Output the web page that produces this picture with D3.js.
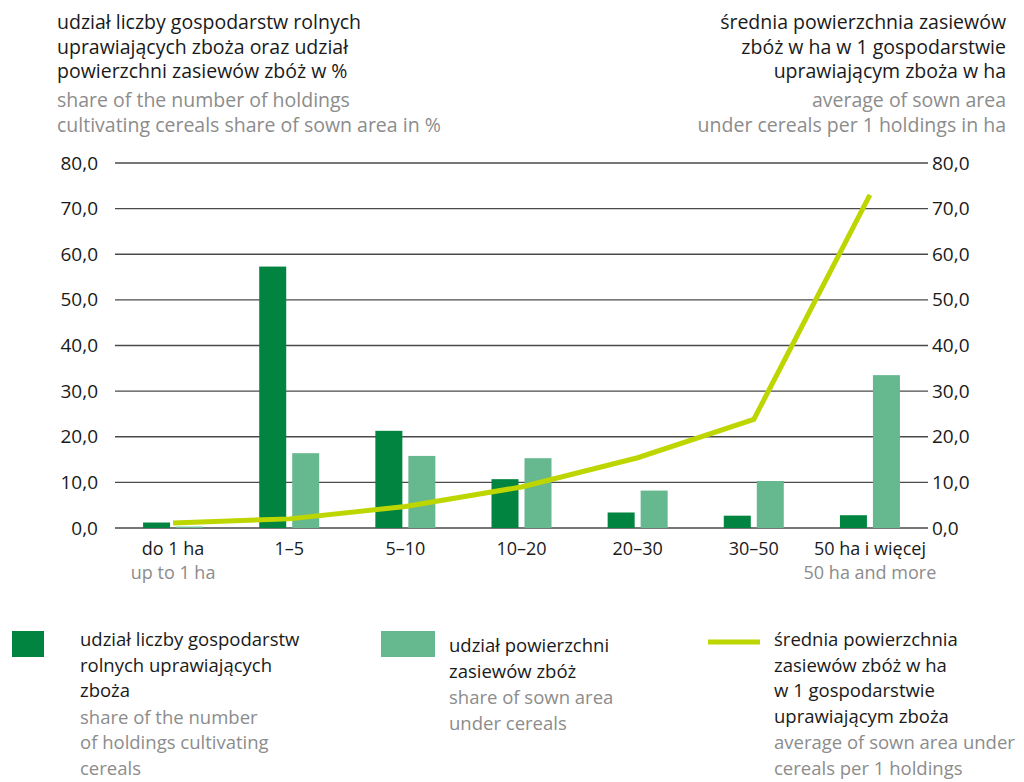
<!DOCTYPE html>
<html lang="pl">
<head>
<meta charset="UTF-8">
<title>Zboża</title>
<style>
  body { margin: 0; background: #fff; }
  svg text { font-family: "Open Sans", "Noto Sans", sans-serif; }
</style>
</head>
<body>
<script src="https://d3js.org/d3.v7.min.js"></script>
<script>
    var categories = ['do 1 ha', '1–5', '5–10', '10–20', '20–30', '30–50', '50 ha i więcej'];
    var categoriesEn = ['up to 1 ha', '', '', '', '', '', '50 ha and more'];
    var shareHoldings = [1.2, 57.3, 21.3, 10.7, 3.4, 2.7, 2.8];
    var shareArea = [0.3, 16.4, 15.8, 15.3, 8.2, 10.3, 33.5];
    var avgArea = [1.1, 2.0, 4.7, 9.0, 15.4, 23.8, 73.0];
    var yTicks = [0, 10, 20, 30, 40, 50, 60, 70, 80];

    var dark = '#00843f', light = '#66b88f', lime = '#bed600';

    var margin = {top: 163, left: 115, right: 96, bottom: 254},
        width = 1024 - margin.left - margin.right,
        height = 782 - margin.top - margin.bottom;

    var svg = d3.select('body').append('svg')
        .attr('width', 1024).attr('height', 782);

    var g = svg.append('g')
        .attr('transform', `translate(${margin.left},${margin.top})`);

    var x0 = d3.scaleBand().domain(categories).range([0, width]);
    var y = d3.scaleLinear().domain([0, 80]).range([height, 0]);
    var y2 = d3.scaleLinear().domain([0, 80]).range([height, 0]);
    var fmt = function(d) { return d3.format('.1f')(d).replace('.', ','); };

    // grid
    g.append('g').selectAll('line')
        .data(yTicks)
      .enter().append('line')
        .attr('x1', 0).attr('x2', width)
        .attr('y1', y).attr('y2', y)
        .attr('stroke', '#4a4a4a').attr('stroke-width', 1.3);

    var yAxisL = d3.axisLeft(y).tickValues(yTicks).tickFormat(fmt).tickSize(0).tickPadding(17);
    var yAxisR = d3.axisRight(y2).tickValues(yTicks).tickFormat(fmt).tickSize(0).tickPadding(4);

    g.append('g').call(yAxisL)
        .call(function(a) { a.select('.domain').remove(); })
        .selectAll('text').attr('font-size', 19).attr('fill', '#1a1a1a')
        .attr('font-family', '"Open Sans", sans-serif');
    g.append('g').attr('transform', `translate(${width},0)`).call(yAxisR)
        .call(function(a) { a.select('.domain').remove(); })
        .selectAll('text').attr('font-size', 19).attr('fill', '#1a1a1a')
        .attr('font-family', '"Open Sans", sans-serif');

    // bars
    var bw = 27, gap = 6;
    var bars = g.append('g');
    categories.forEach(function(c, i) {
        var cx = x0(c) + x0.bandwidth() / 2;
        bars.append('rect')
            .attr('x', cx - gap / 2 - bw).attr('width', bw)
            .attr('y', y(shareHoldings[i])).attr('height', height - y(shareHoldings[i]))
            .attr('fill', dark);
        bars.append('rect')
            .attr('x', cx + gap / 2).attr('width', bw)
            .attr('y', y(shareArea[i])).attr('height', height - y(shareArea[i]))
            .attr('fill', light);
    });

    // line
    var line = d3.line()
        .x(function(d, i) { return x0(categories[i]) + x0.bandwidth() / 2; })
        .y(function(d) { return y2(d); });
    g.append('path').datum(avgArea)
        .attr('d', line).attr('fill', 'none')
        .attr('stroke', lime).attr('stroke-width', 5);

    // category labels
    var cl = g.append('g').attr('transform', `translate(0,${height})`);
    categories.forEach(function(c, i) {
        var cx = x0(c) + x0.bandwidth() / 2;
        cl.append('text').attr('x', cx).attr('y', 27).attr('text-anchor', 'middle')
            .attr('font-size', 18).attr('fill', '#1a1a1a').text(c);
        if (categoriesEn[i]) {
            cl.append('text').attr('x', cx).attr('y', 51).attr('text-anchor', 'middle')
                .attr('font-size', 18).attr('fill', '#8c8c8c').text(categoriesEn[i]);
        }
    });

    // titles
    function block(x, yStart, anchor, lines, lh, size, extra) {
        var yy = yStart;
        lines.forEach(function(l, i) {
            if (i > 0 && l[1] && !lines[i - 1][1]) yy += extra || 0;
            svg.append('text').attr('x', x).attr('y', yy)
                .attr('text-anchor', anchor).attr('font-size', size)
                .attr('fill', l[1] ? '#8c8c8c' : '#1a1a1a').text(l[0]);
            yy += lh;
        });
    }
    block(57, 29, 'start', [
        ['udział liczby gospodarstw rolnych'],
        ['uprawiających zboża oraz udział'],
        ['powierzchni zasiewów zbóż w %'],
        ['share of the number of holdings', 1],
        ['cultivating cereals share of sown area in %', 1]
    ], 24.5, 19.5, 4.5);
    block(1006, 29, 'end', [
        ['średnia powierzchnia zasiewów'],
        ['zbóż w ha w 1 gospodarstwie'],
        ['uprawiającym zboża w ha'],
        ['average of sown area', 1],
        ['under cereals per 1 holdings in ha', 1]
    ], 24.5, 19.5, 4.5);

    // legend
    svg.append('rect').attr('x', 12).attr('y', 631).attr('width', 32).attr('height', 26).attr('fill', dark);
    svg.append('rect').attr('x', 381).attr('y', 631).attr('width', 54).attr('height', 26).attr('fill', light);
    svg.append('line').attr('x1', 708).attr('x2', 760).attr('y1', 642).attr('y2', 642)
        .attr('stroke', lime).attr('stroke-width', 5);
    block(80, 646, 'start', [
        ['udział liczby gospodarstw'],
        ['rolnych uprawiających'],
        ['zboża'],
        ['share of the number', 1],
        ['of holdings cultivating', 1],
        ['cereals', 1]
    ], 25.5, 18.5, 1);
    block(449, 652, 'start', [
        ['udział powierzchni'],
        ['zasiewów zbóż'],
        ['share of sown area', 1],
        ['under cereals', 1]
    ], 25.5, 18.5, 1);
    block(774, 646, 'start', [
        ['średnia powierzchnia'],
        ['zasiewów zbóż w ha'],
        ['w 1 gospodarstwie'],
        ['uprawiającym zboża'],
        ['average of sown area under', 1],
        ['cereals per 1 holdings', 1]
    ], 25.5, 18.5, 1);
</script>
</body>
</html>
